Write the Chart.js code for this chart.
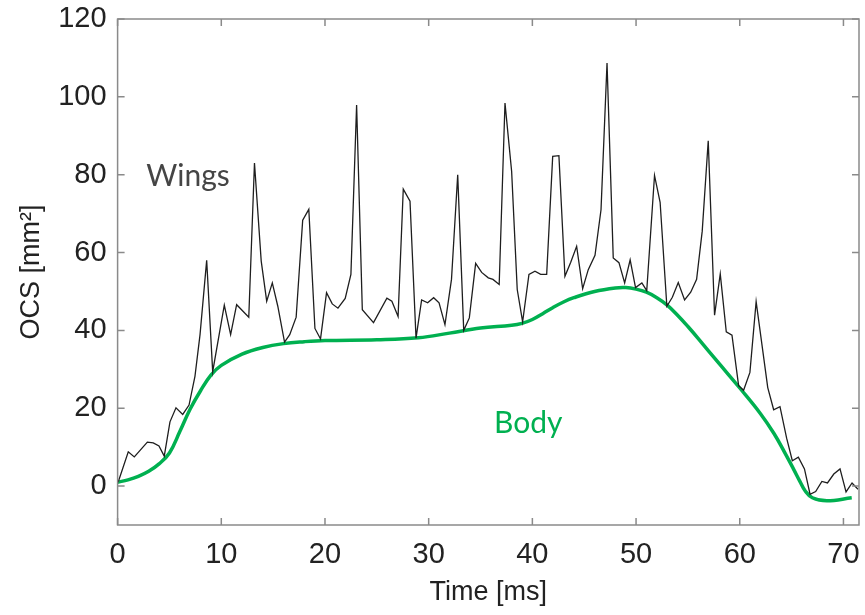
<!DOCTYPE html>
<html lang="en">
<head>
    <meta charset="UTF-8">
    <script src="https://cdn.jsdelivr.net/npm/chart.js"></script>
    <title>OCS over time</title>
    <style>
        html, body { margin: 0; padding: 0; background: #fff; }
    </style>
</head>
<body>
    <canvas id="ocsChart" width="865" height="615"></canvas>

    <script>
        // Wings: raw OCS trace
        const wingTime = [0.05, 1.03, 1.61, 2.87, 3.44, 3.99, 4.5, 5.05, 5.63, 6.28, 6.89, 7.46, 7.95, 8.59, 9.17,
            10.29, 10.9, 11.48, 12.65, 13.2, 13.85, 14.38, 14.92, 15.45, 16.1, 16.6, 17.22, 17.85, 18.44, 19.03, 19.57,
            20.15, 20.7, 21.25, 21.95, 22.5, 23.05, 23.6, 24.68, 25.97, 26.45, 27.05, 27.55, 28.2, 28.78, 29.32, 29.9,
            30.48, 31.0, 31.57, 32.2, 32.8, 33.38, 33.92, 34.53, 35.11, 35.75, 36.2, 36.8, 37.36, 38.0, 38.54, 39.06, 39.67,
            40.25, 40.8, 41.38, 41.96, 42.56, 43.14, 43.7, 44.27, 44.85, 45.39, 46.04, 46.62, 47.2, 47.8, 48.35, 48.9, 49.43, 49.95,
            50.56, 51.03, 51.78, 52.32, 52.97, 53.5, 54.07, 54.68, 55.27, 55.84, 56.38, 56.96, 57.57, 58.12, 58.7, 59.25, 59.89,
            60.37, 60.98, 61.58, 62.7, 63.27, 63.88, 64.52, 65.07, 65.65, 66.24, 66.78, 67.32, 67.92, 68.46, 69.07, 69.67,
            70.25, 70.83, 71.4];
        const wingOcs = [1.0, 8.8, 7.5, 11.3, 11.1, 10.3, 7.7, 16.5, 20.1, 18.4, 20.8, 28.2, 38.9, 58.0, 29.4,
            46.5, 38.9, 46.6, 43.4, 83.0, 57.8, 47.5, 52.2, 46.2, 37.0, 38.9, 43.4, 68.3, 71.1, 40.5, 37.8,
            49.7, 46.8, 45.7, 48.2, 54.4, 97.9, 45.3, 42.0, 48.3, 47.5, 43.6, 76.3, 73.2, 38.0, 47.8, 47.1,
            48.4, 47.1, 41.5, 53.1, 80.0, 40.0, 43.2, 57.2, 54.9, 53.5, 53.1, 51.8, 98.4, 80.9, 50.5, 42.2, 54.4,
            55.2, 54.4, 54.4, 84.7, 84.9, 53.9, 57.5, 61.6, 50.7, 55.6, 59.3, 71.0, 108.7, 58.6, 57.4, 52.2, 58.1, 51.0,
            52.2, 50.2, 79.8, 72.9, 46.2, 48.5, 52.3, 47.8, 49.8, 53.1, 65.5, 88.7, 43.9, 54.5, 39.6, 38.8, 25.8,
            24.6, 29.2, 47.4, 25.3, 19.6, 20.4, 12.3, 6.5, 7.4, 4.4, -2.1, -1.4, 1.2, 0.8, 3.1, 4.4,
            -1.5, 0.8, -0.8];

        // Body: smooth OCS curve
        const bodyTime = [0, 1, 2, 3, 4, 5, 6, 7, 8, 9, 10, 12, 14, 16, 18, 20, 25, 29, 32, 35, 38, 39, 40, 41, 42, 43, 44,
            46, 48, 49, 50, 51, 52, 53, 54, 55, 56, 58, 60, 62, 63.3, 64.3, 65.2, 65.8, 66.3, 67, 68.4, 70.8];
        const bodyOcs = [1.0, 1.6, 2.5, 3.8, 5.7, 8.5, 14.0, 19.8, 24.5, 28.5, 31.0, 33.9, 35.6, 36.6, 37.1, 37.4, 37.6, 38.1,
            39.3, 40.6, 41.3, 41.8, 42.8, 44.3, 45.9, 47.3, 48.4, 50.0, 50.9, 51.0, 50.6, 49.8, 48.4, 46.5, 43.9, 41.0, 37.9,
            31.5, 25.2, 18.6, 13.5, 8.8, 4.3, 1.2, -1.2, -3.0, -3.8, -3.0];

        const xTicks = [0, 10, 20, 30, 40, 50, 60, 70];
        const yTicks = [0, 20, 40, 60, 80, 100, 120];

        // text labels placed in data units
        const wingsLabel = { text: 'Wings', x: 6.8, y: 79.5 };
        const bodyLabel = { text: 'Body', x: 39.6, y: 16 };

        const axisFamily = '"Liberation Sans", Arial, sans-serif';

        function toPoints(xs, ys) {
            return xs.map((t, i) => ({ x: t, y: ys[i] }));
        }

        // MATLAB-style box with inward tick marks
        const boxTicks = {
            id: 'boxTicks',
            afterDatasetsDraw(chart) {
                const { ctx, chartArea: a, scales: { x, y } } = chart;
                const len = 7;
                ctx.save();
                ctx.strokeStyle = '#8a8a8a';
                ctx.lineWidth = 1.5;
                ctx.beginPath();
                xTicks.forEach(v => {
                    const px = x.getPixelForValue(v);
                    ctx.moveTo(px, a.bottom); ctx.lineTo(px, a.bottom - len);
                    ctx.moveTo(px, a.top); ctx.lineTo(px, a.top + len);
                });
                yTicks.forEach(v => {
                    const py = y.getPixelForValue(v);
                    ctx.moveTo(a.left, py); ctx.lineTo(a.left + len, py);
                    ctx.moveTo(a.right, py); ctx.lineTo(a.right - len, py);
                });
                ctx.stroke();
                ctx.strokeRect(a.left, a.top, a.right - a.left, a.bottom - a.top);
                ctx.restore();
            }
        };

        const seriesLabels = {
            id: 'seriesLabels',
            afterDraw(chart) {
                const { ctx, scales: { x, y } } = chart;
                ctx.save();
                ctx.font = '30px Lato, "Open Sans", sans-serif';
                ctx.textAlign = 'center';
                ctx.textBaseline = 'middle';
                ctx.fillStyle = '#454545';
                ctx.fillText(wingsLabel.text, x.getPixelForValue(wingsLabel.x), y.getPixelForValue(wingsLabel.y));
                ctx.fillStyle = '#00b050';
                ctx.fillText(bodyLabel.text, x.getPixelForValue(bodyLabel.x), y.getPixelForValue(bodyLabel.y));
                ctx.restore();
            }
        };

        const ctx = document.getElementById('ocsChart').getContext('2d');
        const chart = new Chart(ctx, {
            type: 'line',
            data: {
                datasets: [{
                    label: 'Wings',
                    data: toPoints(wingTime, wingOcs),
                    borderColor: '#1e1e1e',
                    borderWidth: 1.3,
                    pointRadius: 0,
                    tension: 0
                }, {
                    label: 'Body',
                    data: toPoints(bodyTime, bodyOcs),
                    borderColor: '#00b050',
                    borderWidth: 3.5,
                    pointRadius: 0,
                    tension: 0.4
                }]
            },
            options: {
                responsive: false,
                animation: false,
                layout: { padding: { top: 19, right: 6, left: 0, bottom: 0 } },
                plugins: {
                    legend: { display: false },
                    tooltip: { enabled: false }
                },
                scales: {
                    x: {
                        type: 'linear',
                        min: 0,
                        max: 71.5,
                        afterBuildTicks: s => { s.ticks = xTicks.map(v => ({ value: v })); },
                        afterFit: s => { s.height = 90; s.paddingLeft = 0; s.paddingRight = 0; },
                        grid: { display: false, drawTicks: false },
                        border: { display: false },
                        ticks: { color: '#222', font: { family: axisFamily, size: 29 }, padding: 13, maxRotation: 0 },
                        title: {
                            display: true,
                            text: 'Time [ms]',
                            color: '#222',
                            font: { family: axisFamily, size: 27 },
                            padding: { top: 0, bottom: 6 }
                        }
                    },
                    y: {
                        min: -10,
                        max: 120,
                        afterBuildTicks: s => { s.ticks = yTicks.map(v => ({ value: v })); },
                        afterFit: s => { s.width = 117.6; s.paddingTop = 0; s.paddingBottom = 0; },
                        grid: { display: false, drawTicks: false },
                        border: { display: false },
                        ticks: { color: '#222', font: { family: axisFamily, size: 29 }, padding: 11 },
                        title: {
                            display: true,
                            text: 'OCS [mm²]',
                            color: '#222',
                            font: { family: axisFamily, size: 27 },
                            padding: { top: 15, bottom: 0 }
                        }
                    }
                }
            },
            plugins: [boxTicks, seriesLabels]
        });
    </script>
</body>
</html>
